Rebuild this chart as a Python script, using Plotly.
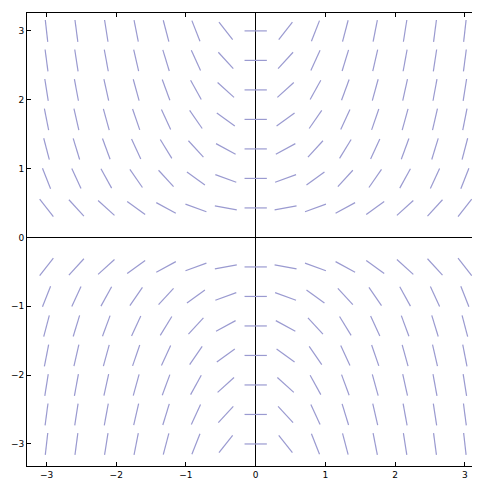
import numpy as np
import plotly.graph_objects as go

x_vals = [-3 + i * 6 / 14 for i in range(15)]
y_vals = [-3 + j * 6 / 14 for j in range(15) if j != 7]
tick_vals = [-3, -2, -1, 0, 1, 2, 3]

half = 0.16
xs, ys = [], []
for x in x_vals:
    for y in y_vals:
        s = x * y  # slope field dy/dx = x*y
        ang = np.arctan(s)
        dx, dy = half * np.cos(ang), half * np.sin(ang)
        xs += [x - dx, x + dx, None]
        ys += [y - dy, y + dy, None]

fig = go.Figure()
fig.add_trace(go.Scatter(x=xs, y=ys, mode="lines",
                         line=dict(color="#9a9ad0", width=1.2), hoverinfo="skip"))
ax = dict(range=[-3.28, 3.26], tickvals=tick_vals, showgrid=False, zeroline=True,
          zerolinecolor="black", zerolinewidth=1, showline=True, linecolor="black",
          linewidth=1, mirror="ticks", ticks="inside", ticklen=4, tickcolor="black",
          automargin=False,
          tickfont=dict(family="DejaVu Sans", size=9, color="black"))
fig.update_layout(width=480, height=480, margin=dict(l=19, r=5, t=5, b=22),
                  plot_bgcolor="white", paper_bgcolor="white", showlegend=False,
                  xaxis=ax, yaxis=dict(ax, range=[-3.32, 3.26]))
fig.write_html("out.html")
